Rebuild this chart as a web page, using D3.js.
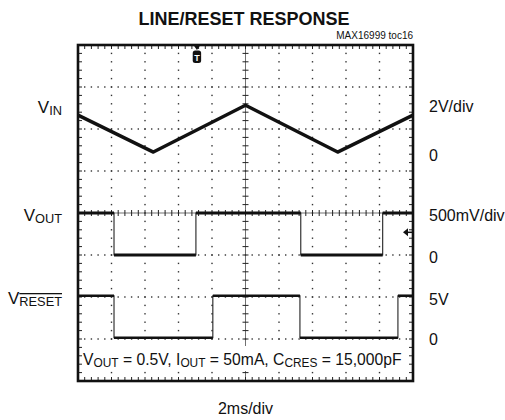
<!DOCTYPE html>
<html>
<head>
<meta charset="utf-8">
<script src="https://cdn.jsdelivr.net/npm/d3@7"></script>
<style>
  body { margin: 0; background: #fff; }
  text { font-family: "Liberation Sans", Arial, sans-serif; fill: #111; }
</style>
</head>
<body>
<svg id="vis" width="505" height="420"></svg>
<script>
// scope settings: 2ms/div, 10 x 8 divisions
var xDivs = 10, yDivs = 8, msPerDiv = 2, minorPerDiv = 5;

// VIN trace (vertices of the triangle), volts, 2V/div
var vinT = [0, 4.5, 10, 15.5, 20];
var vinV = [1.86, 0.1, 2.33, 0.1, 1.86];
// VOUT trace (step edges), volts, 500mV/div
var voutT = [0, 2.15, 7.04, 13.3, 18.19, 20];
var voutV = [0.5, 0, 0.5, 0, 0.5, 0.5];
// VRESET trace (step edges), volts, 5V/div
var vrstT = [0, 2.15, 8.05, 13.25, 19.1, 20];
var vrstV = [5, 0, 5, 0, 5, 5];

// channel: ground position (div from bottom) and volts/div
var channels = {
  vin:  { ground: 5.4,  perDiv: 2 },
  vout: { ground: 3.0,  perDiv: 0.5 },
  vrst: { ground: 1.03, perDiv: 5 }
};
var trigT = 7.1;          // ms
var trigLevel = 0.27;     // on VOUT channel, volts

var svg = d3.select("#vis");
var L = 78, R = 413, T = 45, B = 381;

var x = d3.scaleLinear().domain([0, xDivs * msPerDiv]).range([L, R]);
var y = d3.scaleLinear().domain([0, yDivs]).range([B, T]);
var dx = (R - L) / xDivs, dy = (B - T) / yDivs;

function cy(ch, v) { return y(channels[ch].ground + v / channels[ch].perDiv); }

// title + tag
svg.append("text").attr("x", 244).attr("y", 25).attr("text-anchor", "middle")
  .style("font-size", "18px").style("font-weight", "bold").text("LINE/RESET RESPONSE");
svg.append("text").attr("x", 413).attr("y", 39).attr("text-anchor", "end")
  .style("font-size", "10px").text("MAX16999 toc16");

var grid = svg.append("g");

// dotted grid: dots at minor positions along every major line
for (var i = 1; i < xDivs; i++) {
  if (i == xDivs / 2) continue;
  for (var j = 1; j < yDivs * minorPerDiv; j++) {
    grid.append("rect").attr("x", L + i * dx - 0.7).attr("y", T + j * dy / minorPerDiv - 0.7)
      .attr("width", 1.4).attr("height", 1.4).attr("fill", "#333");
  }
}
for (var j = 1; j < yDivs; j++) {
  if (j == yDivs / 2) continue;
  for (var i = 1; i < xDivs * minorPerDiv; i++) {
    grid.append("rect").attr("x", L + i * dx / minorPerDiv - 0.7).attr("y", T + j * dy - 0.7)
      .attr("width", 1.4).attr("height", 1.4).attr("fill", "#333");
  }
}

// centre axes with ticks
var cx0 = L + dx * xDivs / 2, cy0 = T + dy * yDivs / 2;
grid.append("line").attr("x1", cx0).attr("x2", cx0).attr("y1", T).attr("y2", B)
  .attr("stroke", "#333").attr("stroke-width", 0.7);
grid.append("line").attr("x1", L).attr("x2", R).attr("y1", cy0).attr("y2", cy0)
  .attr("stroke", "#333").attr("stroke-width", 0.7);
for (var j = 1; j < yDivs * minorPerDiv; j++) {
  var yy = T + j * dy / minorPerDiv;
  grid.append("line").attr("x1", cx0 - 3).attr("x2", cx0 + 3).attr("y1", yy).attr("y2", yy)
    .attr("stroke", "#222").attr("stroke-width", 1);
  grid.append("line").attr("x1", L).attr("x2", L + 4).attr("y1", yy).attr("y2", yy)
    .attr("stroke", "#222").attr("stroke-width", 1);
  grid.append("line").attr("x1", R - 4).attr("x2", R).attr("y1", yy).attr("y2", yy)
    .attr("stroke", "#222").attr("stroke-width", 1);
}
for (var i = 1; i < xDivs * minorPerDiv; i++) {
  var xx = L + i * dx / minorPerDiv;
  grid.append("line").attr("x1", xx).attr("x2", xx).attr("y1", cy0 - 3).attr("y2", cy0 + 3)
    .attr("stroke", "#222").attr("stroke-width", 1);
  grid.append("line").attr("x1", xx).attr("x2", xx).attr("y1", T).attr("y2", T + 4)
    .attr("stroke", "#222").attr("stroke-width", 1);
  grid.append("line").attr("x1", xx).attr("x2", xx).attr("y1", B - 4).attr("y2", B)
    .attr("stroke", "#222").attr("stroke-width", 1);
}

// annotation background
svg.append("rect").attr("x", 82).attr("y", 346).attr("width", 324).attr("height", 25).attr("fill", "#fff");

// traces
var vinLine = d3.line().x(function(d) { return x(d[0]); }).y(function(d) { return cy("vin", d[1]); });
svg.append("path").datum(d3.zip(vinT, vinV)).attr("d", vinLine)
  .attr("fill", "none").attr("stroke", "#111").attr("stroke-width", 3.4).attr("stroke-linejoin", "round");

function stepTrace(ts, vs, ch, w) {
  var pts = d3.zip(ts, vs);
  var step = d3.line().curve(d3.curveStepAfter)
    .x(function(d) { return x(d[0]); }).y(function(d) { return cy(ch, d[1]); });
  svg.append("path").datum(pts).attr("d", step)
    .attr("fill", "none").attr("stroke", "#222").attr("stroke-width", 1.1);
  for (var k = 0; k < ts.length - 1; k++) {
    svg.append("line").attr("x1", x(ts[k])).attr("x2", x(ts[k + 1]))
      .attr("y1", cy(ch, vs[k])).attr("y2", cy(ch, vs[k]))
      .attr("stroke", "#111").attr("stroke-width", w);
  }
}
stepTrace(voutT, voutV, "vout", 3);
stepTrace(vrstT, vrstV, "vrst", 2.6);

// border
svg.append("rect").attr("x", L).attr("y", T).attr("width", R - L).attr("height", B - T)
  .attr("fill", "none").attr("stroke", "#111").attr("stroke-width", 2.6);

// trigger marker
var tx = x(trigT);
svg.append("path").attr("d", "M" + (tx - 3.5) + "," + T + "L" + (tx + 3.5) + "," + T + "L" + tx + "," + (T + 5) + "Z").attr("fill", "#111");
svg.append("rect").attr("x", tx - 4.2).attr("y", T + 5.5).attr("width", 8.4).attr("height", 12.5)
  .attr("rx", 2.5).attr("fill", "#111");
svg.append("text").attr("x", tx).attr("y", T + 15.5).attr("text-anchor", "middle")
  .style("font-size", "9px").style("font-weight", "bold").style("fill", "#fff").text("T");

// trigger level arrow
var ay = cy("vout", trigLevel);
svg.append("path").attr("d", "M" + (R - 10) + "," + ay + "L" + (R - 5) + "," + (ay - 4) + "L" + (R - 5) + "," + (ay + 4) + "Z").attr("fill", "#111");
svg.append("line").attr("x1", R - 6).attr("x2", R - 1).attr("y1", ay).attr("y2", ay)
  .attr("stroke", "#111").attr("stroke-width", 1.5);

// left labels
function subLabel(xp, yp, main, sub, fm, fs, anchor, over) {
  var t = svg.append("text").attr("x", xp).attr("y", yp).attr("text-anchor", anchor || "end");
  for (var k = 0; k < main.length; k++) {
    t.append("tspan").style("font-size", fm + "px").attr("dy", k == 0 ? 0 : -2).text(main[k]);
    if (sub[k]) {
      var s = t.append("tspan").style("font-size", fs + "px").attr("dy", 2).text(sub[k]);
      if (over && over[k]) s.style("text-decoration", "overline");
    }
  }
  return t;
}
subLabel(62, 113, ["V"], ["IN"], 17, 12.8);
subLabel(62, 221, ["V"], ["OUT"], 17, 12.8);
subLabel(62, 304, ["V"], ["RESET"], 17, 12.8, "end", [true]);

// right labels
var rightLabels = [["2V/div", 111.5], ["0", 161], ["500mV/div", 221], ["0", 263], ["5V", 305], ["0", 345]];
rightLabels.forEach(function(d) {
  svg.append("text").attr("x", 429).attr("y", d[1]).style("font-size", "16px").text(d[0]);
});

// annotation
subLabel(83, 365, ["V", " = 0.5V, I", " = 50mA, C", " = 15,000pF"], ["OUT", "OUT", "CRES", ""], 15.7, 11.9, "start");

// x label
svg.append("text").attr("x", 245.5).attr("y", 414).attr("text-anchor", "middle")
  .style("font-size", "16px").text("2ms/div");
</script>
</body>
</html>
